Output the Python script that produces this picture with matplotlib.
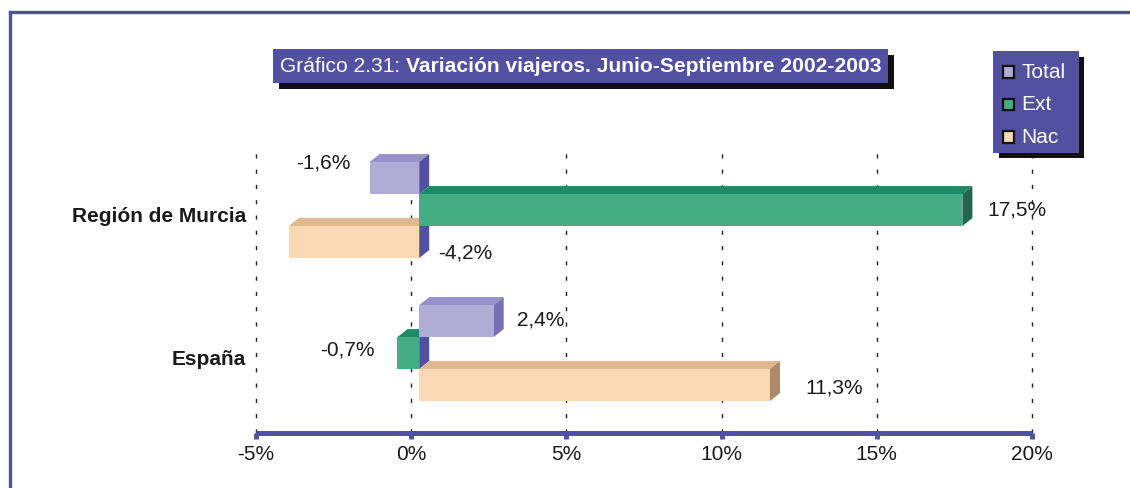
import matplotlib
matplotlib.use("Agg")
import matplotlib.pyplot as plt
import matplotlib.font_manager as fm
from matplotlib.patches import Rectangle, Polygon
from matplotlib.lines import Line2D
from matplotlib.text import Annotation
from matplotlib.transforms import offset_copy, blended_transform_factory

# datos
regiones = ["Región de Murcia", "España"]
series = ["Total", "Ext", "Nac"]
total = [-1.6, 2.4]
ext = [17.5, -0.7]
nac = [-4.2, 11.3]
ticks = [-5, 0, 5, 10, 15, 20]
titulo_a = "Gráfico 2.31: "
titulo_b = "Variación viajeros. Junio-Septiembre 2002-2003"

valores = [total, ext, nac]

# colores (frente, techo, lateral)
morado = "#5250A0"
caras = {
    "Total": ("#B0ACD6", "#9890C8", "#7670B6"),
    "Ext": ("#44AD84", "#1D8A66", "#23654E"),
    "Nac": ("#FAD8B4", "#E0B890", "#B0886A"),
}

nombres = {f.name for f in fm.fontManager.ttflist}
fuente = "Liberation Sans" if "Liberation Sans" in nombres else "DejaVu Sans"
estrecha = "Liberation Sans Narrow" if "Liberation Sans Narrow" in nombres else fuente
tam_titulo = 16 if estrecha != fuente else 15.1
plt.rcParams["font.family"] = fuente

W, H = 1130, 488
fig = plt.figure(figsize=(W / 100, H / 100), dpi=100)
ax = fig.add_axes([256 / W, (H - 433) / H, 776 / W, (433 - 143) / H])
ax.set_xlim(-5, 20)
ax.set_ylim(1.559, -0.469)

# pixeles -> unidades de datos
px_x = 776 / 25.0
px_y = 290 / 2.028
alto = 32 / px_y
desp = 8 / px_x          # desplazamiento del frente
prof_x = 10 / px_x       # profundidad
prof_y = -8 / px_y

def barra3d(v, yc, cols, z):
    frente, techo, lado = cols
    x0, x1 = sorted((0.0, v))
    x0 += desp
    x1 += desp
    yt, yb = yc - alto / 2, yc + alto / 2
    ax.add_patch(Polygon([(x0, yt), (x1, yt), (x1 + prof_x, yt + prof_y),
                          (x0 + prof_x, yt + prof_y)], closed=True,
                         facecolor=techo, edgecolor="none", zorder=z))
    ax.add_patch(Polygon([(x1, yt), (x1 + prof_x, yt + prof_y),
                          (x1 + prof_x, yb + prof_y), (x1, yb)], closed=True,
                         facecolor=lado if v > 0 else morado,
                         edgecolor="none", zorder=z))
    ax.add_patch(Rectangle((x0, yt), x1 - x0, alto, facecolor=frente,
                           edgecolor="none", zorder=z))

# posiciones de las etiquetas (px respecto al extremo de la barra)
etiq = {
    (0, 0): (-19, -15, "right", "left"),
    (0, 1): (25, 0, "left", "right"),
    (0, 2): (19, 11, "left", "zero"),
    (1, 0): (23, -1, "left", "right"),
    (1, 1): (-23, -3, "right", "left"),
    (1, 2): (35, 3, "left", "right"),
}

for g in range(len(regiones)):
    for i, s in enumerate(series):
        v = valores[i][g]
        yc = g + (i - 1) * alto
        # las barras negativas quedan detrás
        barra3d(v, yc, caras[s], 2 + i * 0.1 if v < 0 else 3 + i * 0.1)
        dx, dy, ha, ref = etiq[(g, i)]
        if ref == "right":
            xa = max(0, v) + desp
        elif ref == "left":
            xa = min(0, v) + desp
        else:
            xa = desp
        tr = offset_copy(ax.transData, fig=fig, x=dx, y=-dy, units="dots")
        ax.text(xa, yc, f"{v:.1f}%".replace(".", ","), transform=tr,
                ha=ha, va="center", fontsize=15, color="#1a1a1a", zorder=5)

# nombres de las regiones
bt = blended_transform_factory(ax.transAxes, ax.transData)
for g, r in enumerate(regiones):
    ax.text(0, g, r, transform=offset_copy(bt, fig=fig, x=-10, y=-6, units="dots"),
            ha="right", va="center", fontsize=15, fontweight="bold", color="#1a1a1a")

# ejes
ax.set_xticks(ticks)
ax.set_xticklabels([f"{t}%" for t in ticks])
ax.set_yticks([])
for lado in ["top", "left", "right"]:
    ax.spines[lado].set_visible(False)
ax.spines["bottom"].set_color(morado)
ax.spines["bottom"].set_linewidth(3.6)
ax.spines["bottom"].set_capstyle("butt")
ax.tick_params(axis="x", direction="out", length=4, width=3.5, color=morado,
               pad=5, labelsize=15, labelcolor="#1a1a1a")
ax.xaxis.grid(True, color="#222222", linewidth=1, linestyle=(0, (3, 8)))
for gl in ax.get_xgridlines():
    gl.set_clip_on(False)
ax.set_axisbelow(True)
ax.patch.set_alpha(0)

def px_rect(x0, y0, x1, y1, **kw):
    return Rectangle((x0 / W, 1 - y1 / H), (x1 - x0) / W, (y1 - y0) / H,
                     transform=fig.transFigure, **kw)

# marco
fig.add_artist(Line2D([10 / W, 1], [1 - 12 / H] * 2, color=morado, lw=2.4))
fig.add_artist(Line2D([10 / W] * 2, [0, 1 - 12 / H], color=morado, lw=2.4))

# título
fig.add_artist(px_rect(279, 55, 894, 89, facecolor="#111111", edgecolor="none"))
fig.add_artist(px_rect(273, 49, 888, 83, facecolor=morado, edgecolor="none"))
t1 = fig.text(280 / W, 1 - 66 / H, titulo_a, color="white", fontsize=tam_titulo,
              family=estrecha, va="center", ha="left", zorder=3)
t2 = Annotation(titulo_b, xy=(1, 0.5), xycoords=t1, va="center", ha="left",
                color="white", fontsize=tam_titulo, family=estrecha,
                fontweight="bold", zorder=3)
fig.add_artist(t2)

# leyenda
fig.add_artist(px_rect(999, 57, 1084, 158, facecolor="#111111", edgecolor="none"))
fig.add_artist(px_rect(993, 51, 1079, 153, facecolor=morado, edgecolor="none"))
for i, s in enumerate(series):
    yc = 72 + i * 32.5
    fig.add_artist(px_rect(1003, yc - 5.5, 1014, yc + 5.5,
                           facecolor=caras[s][0], edgecolor="#111111", lw=1.6))
    fig.text(1021 / W, 1 - yc / H, s, color="white", fontsize=15,
             va="center", ha="left", zorder=3)

fig.savefig("out.png", dpi=100)
